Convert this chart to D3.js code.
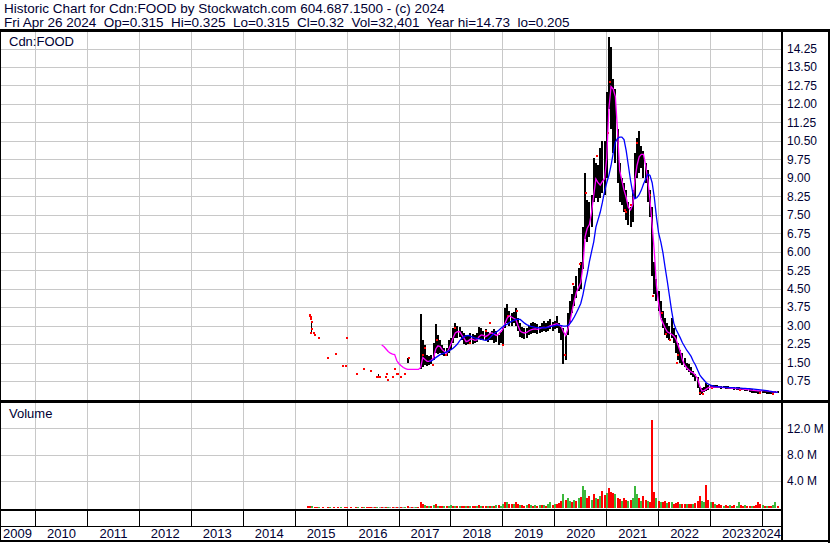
<!DOCTYPE html>
<html><head><meta charset="utf-8">
<script src="https://cdn.jsdelivr.net/npm/d3@7"></script>
<style>
body{margin:0;background:#fff;}
svg{display:block;font-family:Arial,"Liberation Sans",sans-serif;}
</style></head><body>
<svg id="c" width="830" height="543"></svg>
<script>
// ---------- DATA ----------
const headerLines = [
  "Historic Chart for Cdn:FOOD by Stockwatch.com 604.687.1500 - (c) 2024",
  "Fri Apr 26 2024  Op=0.315  Hi=0.325  Lo=0.315  Cl=0.32  Vol=32,401  Year hi=14.73  lo=0.205"
];
const symbolLabel = "Cdn:FOOD";
const volumeLabel = "Volume";
const years = [2009,2010,2011,2012,2013,2014,2015,2016,2017,2018,2019,2020,2021,2022,2023,2024];
const priceTicks = [0.75,1.50,2.25,3.00,3.75,4.50,5.25,6.00,6.75,7.50,8.25,9.00,9.75,10.50,11.25,12.00,12.75,13.50,14.25];
const volTicks = [4,8,12];

// half-monthly price bars, first period = Jan 1 2017
const barStart = 2017;
const barHigh = [null,null,null,null,1.70,null,null,null,null,null,
 3.48,2.40,2.20,1.80,1.75,1.80,2.30,3.06,2.60,2.40,
 2.20,2.10,2.10,2.40,2.50,2.90,3.10,3.00,2.95,2.80,
 2.70,2.60,2.60,2.70,2.65,2.60,2.70,2.95,2.90,2.80,
 2.85,2.75,2.70,2.80,2.85,2.80,2.60,2.75,2.90,3.70,
 3.88,3.60,3.50,3.55,3.73,3.30,3.10,2.95,2.90,2.90,
 3.00,3.10,3.15,3.10,3.05,3.00,3.10,3.20,3.10,3.20,
 3.25,3.15,3.20,3.40,3.10,3.00,2.90,2.60,3.50,4.00,
 4.30,4.60,5.00,5.35,5.60,7.00,9.20,8.10,8.00,8.30,
 9.80,9.60,9.50,10.20,10.50,10.50,12.50,14.73,14.30,13.00,
 12.60,11.00,9.60,9.00,8.80,8.50,8.00,7.80,8.50,10.00,
 10.60,10.90,10.30,10.10,9.60,9.30,8.50,7.80,5.60,4.90,
 4.40,4.00,3.60,3.30,3.10,3.00,3.30,2.90,2.60,2.30,
 2.00,1.90,1.70,1.50,1.45,1.30,1.15,1.05,0.90,0.50,
 0.45,0.50,0.68,0.60,0.60,0.58,0.60,0.58,0.56,0.55,
 0.55,0.54,0.53,0.52,0.52,0.50,0.50,0.49,0.48,0.47,
 0.46,0.45,0.44,0.42,0.40,0.38,0.36,0.36,0.37,0.36,
 0.35,0.34,0.33,0.33,0.35,0.34];
const barLow = [null,null,null,null,1.50,null,null,null,null,null,
 1.24,1.30,1.40,1.35,1.40,1.45,1.60,1.90,1.85,1.90,
 1.80,1.75,1.75,1.90,2.00,2.30,2.50,2.50,2.55,2.40,
 2.25,2.20,2.25,2.30,2.25,2.30,2.35,2.45,2.40,2.40,
 2.40,2.35,2.40,2.40,2.30,2.35,2.20,2.30,2.25,2.90,
 3.10,3.00,3.00,3.10,3.00,2.80,2.55,2.50,2.45,2.50,
 2.60,2.65,2.70,2.70,2.65,2.70,2.75,2.80,2.75,2.80,
 2.85,2.80,2.85,2.90,2.70,2.40,1.43,1.60,2.60,3.10,
 3.50,3.80,4.10,4.40,4.50,5.30,6.50,6.40,6.60,7.00,
 8.00,8.20,8.00,8.20,8.40,8.30,9.00,11.80,11.00,10.00,
 9.60,8.80,8.00,7.90,7.60,7.30,7.10,7.00,7.20,8.20,
 9.00,9.20,9.40,9.00,8.80,8.00,7.40,5.00,4.30,4.00,
 3.60,3.30,2.90,2.60,2.50,2.40,2.50,2.30,1.90,1.60,
 1.50,1.40,1.30,1.20,1.10,1.00,0.90,0.75,0.45,0.20,
 0.22,0.30,0.35,0.40,0.45,0.45,0.45,0.46,0.45,0.44,
 0.45,0.44,0.43,0.42,0.42,0.40,0.40,0.38,0.37,0.37,
 0.36,0.33,0.30,0.28,0.25,0.25,0.24,0.25,0.27,0.26,
 0.24,0.22,0.21,0.21,0.25,0.28];

// sparse early trades (decimal year, price)
const dotT = [2015.28,2015.29,2015.30,2015.31,2015.32,2015.33,2015.31,2015.37,2015.39,2015.46,
 2015.63,2015.78,2015.92,2015.97,2015.99,2016.19,2016.33,2016.47,2016.58,2016.61,
 2016.63,2016.76,2016.75,2016.78,2016.88,2016.92,2016.96,2016.98,2017.04,2017.12,2017.19];
const dotP = [3.40,3.45,3.35,3.28,3.16,2.88,2.71,2.71,2.60,2.51,
 1.70,1.83,1.37,1.37,2.51,1.05,1.25,1.16,0.92,0.92,
 0.92,1.05,0.91,0.79,0.91,1.25,1.05,1.05,0.91,1.05,1.70];
const sparseBarT = [2015.30,2016.59];
const sparseBarHigh = [3.20,1.05];
const sparseBarLow = [2.70,0.91];

// red close marks visible inside the dense bar region
const redT = [2017.47,2017.50,2017.66,2017.73,2017.90,2018.08,2018.37,2018.68,2018.75,2019.01,
 2019.10,2019.27,2020.20,2020.36,2020.49,2020.61,2020.81,2021.03,2021.06,2021.35,
 2021.38,2021.47,2021.58,2021.84,2021.90,2022.06,2022.15,2022.22,2022.35,2022.38,
 2022.80,2022.86,2023.02,2023.57,2023.95,2024.21];
const redP = [1.80,2.10,1.40,2.40,1.80,2.90,2.30,2.80,3.10,2.20,
 3.40,3.60,1.80,4.70,5.50,8.40,9.90,10.80,12.90,7.70,
 7.60,7.90,10.40,8.30,4.20,3.50,2.65,2.40,1.50,1.80,
 0.25,0.22,0.45,0.40,0.27,0.23];

// short moving average (magenta), half-monthly from Sep 1 2016
const magStart = 2016 + 8/12;
const magenta = [2.21,2.15,2.05,1.95,1.88,1.84,1.82,1.57,1.45,1.37,
 1.30,1.25,1.22,1.22,1.22,1.22,1.22,1.22,1.30,1.70,
 1.62,1.55,1.55,1.60,1.70,2.05,2.18,2.15,2.02,1.95,
 1.87,2.05,2.25,2.50,2.70,2.75,2.76,2.62,2.50,2.35,
 2.38,2.45,2.45,2.40,2.42,2.55,2.62,2.60,2.55,2.60,
 2.68,2.70,2.65,2.60,2.65,2.75,2.85,3.10,3.30,3.40,
 3.35,3.30,3.25,3.00,2.78,2.72,2.70,2.72,2.78,2.83,
 2.86,2.87,2.85,2.88,2.92,2.93,2.92,2.95,3.00,3.02,
 3.05,3.08,3.02,2.95,2.75,2.60,2.85,3.15,3.60,4.00,
 4.35,4.55,4.75,5.40,6.60,6.95,7.10,7.60,8.30,8.95,
 8.80,8.70,8.85,8.95,9.80,11.80,12.70,12.60,12.30,10.90,
 9.30,8.90,8.50,8.20,7.80,7.70,7.90,8.90,9.50,9.85,
 9.95,9.95,9.50,8.90,8.10,7.10,6.00,4.60,3.90,3.30,
 3.10,2.90,2.75,2.70,2.65,2.58,2.45,2.20,1.95,1.60,
 1.40,1.28,1.20,1.12,1.08,0.98,0.85,0.55,0.34,0.36,
 0.42,0.48,0.50,0.50,0.50,0.50,0.50,0.49,0.48,0.48,
 0.47,0.46,0.45,0.45,0.44,0.44,0.43,0.42,0.41,0.40,
 0.39,0.38,0.37,0.36,0.35,0.35,0.36,0.36,0.35,0.34,
 0.32,0.31,0.30,0.30];

// long moving average (blue), half-monthly from Aug 1 2017
const blueStart = 2017 + 7/12;
const blue = [1.55,1.57,1.62,1.70,1.76,1.82,1.86,1.88,1.93,1.97,
 2.02,2.08,2.16,2.25,2.38,2.48,2.55,2.58,2.60,2.57,
 2.53,2.50,2.48,2.46,2.45,2.42,2.40,2.42,2.50,2.60,
 2.68,2.74,2.80,2.88,2.95,3.02,3.06,3.12,3.17,3.21,
 3.24,3.26,3.25,3.18,3.10,3.04,3.00,2.97,2.95,2.93,
 2.92,2.91,2.91,2.92,2.92,2.94,2.96,2.98,3.00,3.02,
 3.02,3.00,2.98,2.98,3.00,3.08,3.20,3.35,3.52,3.70,
 3.90,4.25,4.70,5.10,5.60,6.00,6.40,7.00,7.30,7.60,
 8.00,8.45,8.80,9.10,9.50,10.00,10.45,10.60,10.65,10.65,
 10.55,10.10,9.50,8.90,8.40,8.15,8.20,8.32,8.50,8.75,
 8.95,9.15,9.10,8.80,8.20,7.40,6.75,6.40,5.95,5.35,
 4.80,4.20,3.60,3.10,2.85,2.68,2.50,2.30,2.15,2.00,
 1.88,1.75,1.55,1.40,1.20,1.00,0.88,0.78,0.68,0.62,
 0.58,0.55,0.53,0.52,0.51,0.50,0.50,0.49,0.49,0.48,
 0.48,0.47,0.47,0.46,0.46,0.45,0.45,0.44,0.44,0.43,
 0.42,0.41,0.40,0.39,0.38,0.37,0.36,0.34,0.33,0.31,
 0.30,0.29];

// half-monthly volume (millions), first period = Apr 1 2015; direction g=up r=down n=unchanged
const volStart = 2015.25;
const volume = [0.25,0.30,0.20,0.10,0.05,0.10,0,0.05,0,0.05,
 0.08,0,0.05,0,0.10,0.05,0,0.05,0.08,0,
 0.05,0,0.06,0.04,0,0.05,0.10,0.05,0.10,0.08,
 0.05,0.10,0.08,0.10,0.10,0.12,0.10,0.15,0.10,0.12,
 0.10,0.15,
 0.10,0.10,0.08,0.12,0.20,0.05,0.05,0.05,0.05,0.10,
 0.80,0.55,0.40,0.25,0.30,0.20,0.35,0.50,0.30,0.25,
 0.20,0.25,0.20,0.30,0.35,0.30,0.25,0.30,0.20,0.30,
 0.25,0.20,0.25,0.30,0.20,0.25,0.30,0.35,0.25,0.30,
 0.25,0.20,0.30,0.25,0.30,0.35,0.40,0.30,0.60,0.80,
 0.90,0.60,0.50,0.55,0.90,0.50,0.40,0.35,0.30,0.40,
 0.50,0.40,0.30,0.35,0.30,0.40,0.35,0.40,0.30,0.50,
 0.90,0.40,0.50,0.60,0.70,1.00,2.00,1.20,1.40,1.00,
 0.90,1.20,1.00,1.50,1.60,3.20,2.70,1.50,1.80,1.20,
 2.00,1.50,1.30,1.80,2.50,1.90,2.20,3.00,2.40,2.20,
 2.00,1.50,1.30,1.00,1.40,1.20,1.00,1.10,1.50,3.20,
 2.00,1.40,1.00,1.80,1.20,1.00,0.90,13.30,2.30,1.50,
 1.00,0.90,0.80,1.00,0.70,0.80,0.90,0.60,0.70,0.80,
 0.60,0.50,0.60,0.50,0.60,0.50,0.60,0.70,1.00,1.80,
 1.00,0.80,3.40,1.20,0.80,0.90,0.50,0.40,0.50,0.40,
 0.30,0.40,0.30,0.35,0.30,0.40,0.30,0.90,0.40,0.30,
 0.35,0.30,0.25,0.30,0.30,0.35,0.90,0.50,0.40,0.30,
 0.30,0.25,0.30,0.40,0.80,0.30];
const volDir = ("rrgrrgnrnr" + "gnrnrgnrrn" + "rnrgnrgrrr" + "nrgnrnrgnr" + "nr" +
 "nrngrnrngr" + "rrgrgrgrgr" + "rgrggrgrgr" + "rgrgrrgrgr" + "rgrgrgrggr" +
 "grrgrrgrrg" + "rgrgrgrgrg" + "grgrrrgrgg" + "rgrgrggrrg" + "rgrgrrgrrr" +
 "grrgrrgrgg" + "grgrrgrrrg" + "rgrrgrgrrr" + "grrgrrgrrr" + "ggrrgrgrrr" +
 "grrgrrggrr" + "grrgrrrrgr" + "grrggr").split("");

// ---------- DRAW ----------
const svg = d3.select("#c");
const FONT = 'Arial, "Liberation Sans", sans-serif';
const TXT = "#000033";
const PL = 1, PR = 781, PT = 32, PB = 400, VT = 403, VB = 509;

const x = d3.scaleLinear().domain([2010, 2024]).range([35.5, 762.5]);
const y = d3.scaleLinear().domain([0.75, 14.25]).range([381, 48.5]);
const yv = d3.scaleLinear().domain([0, 12]).range([507.5, 428.3]);
const per = (start, k) => start + k / 24;

svg.append("rect").attr("width", 830).attr("height", 543).attr("fill", "#fff");

// header
const hdr = svg.append("g").attr("font-family", FONT).attr("fill", TXT);
const h2 = hdr.append("text").attr("x", 4).attr("y", 27).attr("font-size", 13)
  .style("white-space", "pre").text(headerLines[1]);
const w13 = h2.node().getComputedTextLength();
const fs = 13 * 566 / w13;
h2.attr("font-size", fs);
hdr.append("text").attr("x", 4).attr("y", 13).attr("font-size", fs)
  .style("white-space", "pre").text(headerLines[0]);

// clip
const defs = svg.append("defs");
defs.append("clipPath").attr("id", "pc").append("rect")
  .attr("x", PL).attr("y", PT).attr("width", PR - PL).attr("height", PB - PT);
defs.append("clipPath").attr("id", "vc").append("rect")
  .attr("x", PL).attr("y", VT).attr("width", PR - PL).attr("height", VB - VT);

// grid
const grid = svg.append("g").attr("stroke", "#c8c8c8").attr("shape-rendering", "crispEdges");
years.filter(v => v >= 2010).forEach(v => {
  const xx = Math.floor(x(v)) + 0.5;
  grid.append("line").attr("x1", xx).attr("x2", xx).attr("y1", PT).attr("y2", PB);
  grid.append("line").attr("x1", xx).attr("x2", xx).attr("y1", VT).attr("y2", VB);
});
priceTicks.forEach(p => {
  const yy = Math.round(y(p)) + 0.5;
  grid.append("line").attr("x1", PL).attr("x2", PR).attr("y1", yy).attr("y2", yy);
});
volTicks.forEach(v => {
  const yy = Math.round(yv(v)) + 0.5;
  grid.append("line").attr("x1", PL).attr("x2", PR).attr("y1", yy).attr("y2", yy);
});

// labels in panels
svg.append("text").attr("x", 9).attr("y", 46).attr("font-family", FONT).attr("font-size", 13)
  .attr("fill", TXT).text(symbolLabel);
svg.append("text").attr("x", 9).attr("y", 418).attr("font-family", FONT).attr("font-size", 13)
  .attr("fill", TXT).text(volumeLabel);

// price bars
const pg = svg.append("g").attr("clip-path", "url(#pc)").attr("shape-rendering", "crispEdges");
const bars = barHigh.map((h, i) => ({t: per(barStart, i), h, l: barLow[i]})).filter(d => d.h != null);
pg.selectAll("rect.b").data(bars).join("rect").attr("class", "b")
  .attr("x", d => Math.round(x(d.t)) - 1).attr("width", 2)
  .attr("y", d => Math.round(y(d.h)))
  .attr("height", d => Math.max(1, Math.round(y(d.l)) - Math.round(y(d.h))))
  .attr("fill", "#000");
const sb = sparseBarT.map((t, i) => ({t, h: sparseBarHigh[i], l: sparseBarLow[i]}));
pg.selectAll("rect.sb").data(sb).join("rect").attr("class", "sb")
  .attr("x", d => Math.round(x(d.t))).attr("width", 1)
  .attr("y", d => Math.round(y(d.h)))
  .attr("height", d => Math.round(y(d.l)) - Math.round(y(d.h)))
  .attr("fill", "#000");
const dots = dotT.map((t, i) => ({t, p: dotP[i]}))
  .concat(redT.map((t, i) => ({t, p: redP[i]})));
pg.selectAll("rect.d").data(dots).join("rect").attr("class", "d")
  .attr("x", d => Math.round(x(d.t)) - 1).attr("y", d => Math.round(y(d.p)) - 1)
  .attr("width", 2).attr("height", 2).attr("fill", "#ff0000");

// moving averages
const lg = svg.append("g").attr("clip-path", "url(#pc)").attr("fill", "none");
const line = d3.line().x(d => x(d[0])).y(d => y(d[1]));
lg.append("path").attr("d", line(magenta.map((v, k) => [per(magStart, k), v])))
  .attr("stroke", "#ff00ff").attr("stroke-width", 1.3);
lg.append("path").attr("d", line(blue.map((v, k) => [per(blueStart, k), v])))
  .attr("stroke", "#0000ff").attr("stroke-width", 1.3);

// volume
const vcol = {g: "#3cb83c", r: "#ff0000", n: "#a0a0a0"};
const vg = svg.append("g").attr("clip-path", "url(#vc)").attr("shape-rendering", "crispEdges");
const vols = volume.map((v, k) => ({t: per(volStart, k), v, c: volDir[k]})).filter(d => d.v > 0);
vg.selectAll("rect").data(vols).join("rect")
  .attr("x", d => Math.round(x(d.t)) - 1).attr("width", 2)
  .attr("y", d => Math.round(yv(d.v)))
  .attr("height", d => Math.max(1, Math.round(yv(0)) - Math.round(yv(d.v))))
  .attr("fill", d => vcol[d.c]);

// frame
const fr = svg.append("g").attr("fill", "#000").attr("shape-rendering", "crispEdges");
fr.append("rect").attr("x", 0).attr("y", 29).attr("width", 830).attr("height", 3);
fr.append("rect").attr("x", 0).attr("y", 29).attr("width", 1).attr("height", 513);
fr.append("rect").attr("x", 781).attr("y", 29).attr("width", 2).attr("height", 513);
fr.append("rect").attr("x", 828).attr("y", 29).attr("width", 2).attr("height", 514);
fr.append("rect").attr("x", 0).attr("y", 400).attr("width", 830).attr("height", 3);
fr.append("rect").attr("x", 0).attr("y", 509).attr("width", 783).attr("height", 2);
fr.append("rect").attr("x", 0).attr("y", 526).attr("width", 783).attr("height", 1);
fr.append("rect").attr("x", 0).attr("y", 540).attr("width", 830).attr("height", 2);
years.filter(v => v >= 2010).forEach(v => {
  fr.append("rect").attr("x", Math.floor(x(v))).attr("y", 511).attr("width", 1).attr("height", 15);
});

// right axes
const styleAxis = g => {
  g.select(".domain").remove();
  g.selectAll("text").attr("font-family", FONT).attr("font-size", 12).attr("fill", TXT);
};
svg.append("g").attr("transform", "translate(787,0)")
  .call(d3.axisRight(y).tickValues(priceTicks).tickSize(0).tickPadding(0).tickFormat(d3.format(".2f")))
  .call(styleAxis);
svg.append("g").attr("transform", "translate(787,0)")
  .call(d3.axisRight(yv).tickValues(volTicks).tickSize(0).tickPadding(0).tickFormat(d => d.toFixed(1) + " M"))
  .call(styleAxis);

// year labels
const yl = svg.append("g").attr("font-family", FONT).attr("font-size", 13).attr("fill", TXT);
years.forEach(v => {
  const t = yl.append("text").attr("y", 538).text(String(v));
  const w = t.node().getComputedTextLength();
  let cx = x(v + 0.5) - w / 2;
  cx = Math.max(3, Math.min(781 - w, cx));
  t.attr("x", cx);
});
</script>
</body></html>
